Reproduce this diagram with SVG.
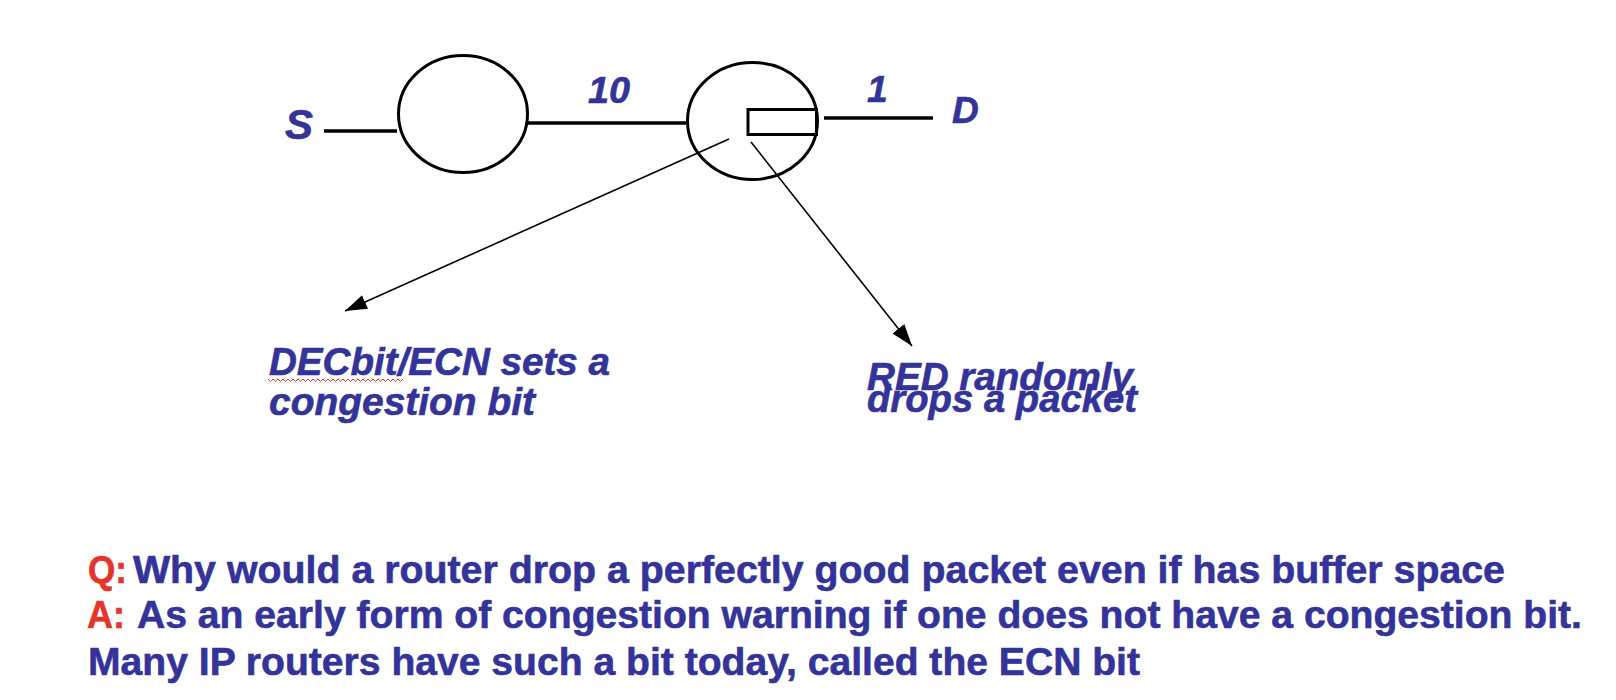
<svg xmlns="http://www.w3.org/2000/svg" width="1616" height="700" viewBox="0 0 1616 700">
<defs>
<style>
.bg{fill:#ffffff}
.node{fill:none;stroke:#000;stroke-width:3}
.link{stroke:#000;stroke-width:3.5;fill:none}
.arrow{stroke:#000;stroke-width:1.6;fill:none;marker-end:url(#ah)}
.lbl{font-family:"Liberation Sans",Arial,sans-serif;font-weight:bold;font-style:italic;fill:#333399;stroke:#333399;stroke-width:0.6}
.txt{font-family:"Liberation Sans",Arial,sans-serif;font-weight:bold;fill:#333399;stroke:#333399;stroke-width:0.6;font-size:39px}
.red{fill:#e5352b;stroke:#e5352b}
</style>
<marker id="ah" markerUnits="userSpaceOnUse" markerWidth="24" markerHeight="16" refX="22" refY="7.5" orient="auto">
<path d="M0,0 L22,7.5 L0,15 z" fill="#000"/>
</marker>
</defs>
<rect class="bg" x="0" y="0" width="1616" height="700"/>

<g id="connectors">
<line class="link" x1="324" y1="131" x2="397" y2="131"/>
<line class="link" x1="526" y1="123" x2="686" y2="123"/>
<line class="link" x1="824" y1="118" x2="933" y2="118"/>
<line class="arrow" x1="729" y1="139" x2="345" y2="311"/>
<line class="arrow" x1="751" y1="142" x2="912" y2="346"/>
</g>

<g id="node-S">
<text class="lbl" x="285" y="139" font-size="42">S</text>
</g>

<g id="node-router1">
<ellipse class="node" cx="463" cy="114" rx="64.5" ry="58.5"/>
</g>

<g id="node-router2">
<ellipse class="node" cx="752.5" cy="121" rx="65" ry="58.5"/>
<rect class="node" x="748" y="109.5" width="68.5" height="25"/>
</g>

<g id="node-D">
<text class="lbl" x="952" y="123" font-size="37">D</text>
</g>

<g id="link-labels">
<text class="lbl" x="588" y="103" font-size="37" textLength="42" lengthAdjust="spacingAndGlyphs">10</text>
<text class="lbl" x="867" y="102" font-size="37">1</text>
</g>

<g id="label-decbit">
<text class="lbl" x="269" y="375" font-size="39" textLength="341" lengthAdjust="spacingAndGlyphs">DECbit/ECN sets a</text>
<text class="lbl" x="269" y="415" font-size="39" textLength="266" lengthAdjust="spacingAndGlyphs">congestion bit</text>
<path d="M268,379 l2.5,2.5 l2.5,-2.5 l2.5,2.5 l2.5,-2.5 l2.5,2.5 l2.5,-2.5 l2.5,2.5 l2.5,-2.5 l2.5,2.5 l2.5,-2.5 l2.5,2.5 l2.5,-2.5 l2.5,2.5 l2.5,-2.5 l2.5,2.5 l2.5,-2.5 l2.5,2.5 l2.5,-2.5 l2.5,2.5 l2.5,-2.5 l2.5,2.5 l2.5,-2.5 l2.5,2.5 l2.5,-2.5 l2.5,2.5 l2.5,-2.5 l2.5,2.5 l2.5,-2.5 l2.5,2.5 l2.5,-2.5 l2.5,2.5 l2.5,-2.5 l2.5,2.5 l2.5,-2.5 l2.5,2.5 l2.5,-2.5 l2.5,2.5 l2.5,-2.5 l2.5,2.5 l2.5,-2.5 l2.5,2.5 l2.5,-2.5 l2.5,2.5 l2.5,-2.5 l2.5,2.5 l2.5,-2.5 l2.5,2.5 l2.5,-2.5 l2.5,2.5 l2.5,-2.5 l2.5,2.5 l2.5,-2.5 l2.5,2.5 l2.5,-2.5" fill="none" stroke="#e5352b" stroke-width="1"/>
</g>

<g id="label-red">
<text class="lbl" x="867" y="390" font-size="39" textLength="266" lengthAdjust="spacingAndGlyphs">RED randomly</text>
<text class="lbl" x="867" y="412" font-size="39" textLength="270" lengthAdjust="spacingAndGlyphs">drops a packet</text>
</g>

<g id="qa">
<text class="txt red" x="88" y="583" textLength="39" lengthAdjust="spacingAndGlyphs">Q:</text>
<text class="txt" x="133" y="583" textLength="1372" lengthAdjust="spacingAndGlyphs">Why would a router drop a perfectly good packet even if has buffer space</text>
<text class="txt red" x="87" y="628" textLength="38" lengthAdjust="spacingAndGlyphs">A:</text>
<text class="txt" x="137" y="628" textLength="1445" lengthAdjust="spacingAndGlyphs">As an early form of congestion warning if one does not have a congestion bit.</text>
<text class="txt" x="88" y="675" textLength="1052" lengthAdjust="spacingAndGlyphs">Many IP routers have such a bit today, called the ECN bit</text>
</g>
</svg>
